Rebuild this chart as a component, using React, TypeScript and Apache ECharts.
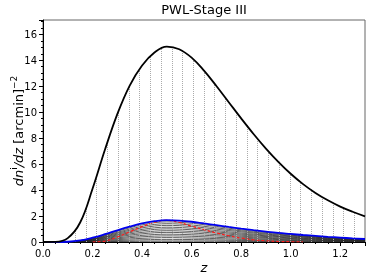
import React, { useEffect, useRef } from "react";
import * as echarts from "echarts";

// redshift grid (step 0.05) for the main curves
const zFine = [0, 0.05, 0.1, 0.15, 0.2, 0.25, 0.3, 0.35, 0.4, 0.45, 0.5, 0.55, 0.6, 0.65, 0.7, 0.75, 0.8, 0.85, 0.9, 0.95, 1.0, 1.05, 1.1, 1.15, 1.2, 1.25, 1.3];
// total dn/dz (black)
const totalN = [0, 0.01, 0.3, 1.5, 4.1, 7.1, 9.85, 12.05, 13.6, 14.6, 15.05, 14.85, 14.2, 13.2, 12.02, 10.77, 9.52, 8.32, 7.2, 6.18, 5.26, 4.46, 3.78, 3.21, 2.73, 2.33, 1.98];
// blue curve
const blueN = [0, 0, 0.02, 0.12, 0.33, 0.6, 0.9, 1.18, 1.43, 1.6, 1.68, 1.65, 1.56, 1.43, 1.3, 1.16, 1.03, 0.91, 0.8, 0.7, 0.62, 0.54, 0.47, 0.4, 0.34, 0.28, 0.23];
// red dashed curve (null = not drawn)
const redN = [null, null, null, null, 0, 0.07, 0.38, 0.78, 1.18, 1.52, 1.67, 1.5, 1.22, 0.95, 0.7, 0.48, 0.3, 0.17, 0.09, 0.04, 0.02, 0.0, null, null, null, null, null];

// bin edges (vertical dotted lines) and their heights (reaching the black curve)
const binEdges = [0.087, 0.13, 0.173, 0.217, 0.26, 0.303, 0.347, 0.39, 0.433, 0.477, 0.52, 0.563, 0.607, 0.65, 0.693, 0.737, 0.78, 0.823, 0.867, 0.91, 0.953, 0.997, 1.04, 1.083, 1.127, 1.17, 1.213, 1.257];
const binEdgeHeights = [0.15, 0.9, 2.7, 5.1, 7.7, 10.0, 12.0, 13.4, 14.35, 14.9, 15.0, 14.7, 14.1, 13.2, 12.15, 11.05, 10.0, 9.0, 8.0, 7.05, 6.2, 5.35, 4.65, 4.05, 3.5, 3.05, 2.65, 2.3];

// coarse grid (step 0.1) for the thin grey curves
const zCoarse = [0, 0.1, 0.2, 0.3, 0.4, 0.5, 0.6, 0.7, 0.8, 0.9, 1.0, 1.1, 1.2, 1.3];
const grey01 = [0, 0.02, 0.3, 0.83, 1.32, 1.55, 1.44, 1.2, 0.94, 0.74, 0.57, 0.43, 0.31, 0.21];
const grey02 = [0, 0.02, 0.27, 0.75, 1.2, 1.41, 1.31, 1.09, 0.86, 0.67, 0.52, 0.39, 0.29, 0.19];
const grey03 = [0, 0.02, 0.24, 0.68, 1.09, 1.28, 1.19, 0.99, 0.78, 0.61, 0.47, 0.36, 0.26, 0.17];
const grey04 = [0, 0.01, 0.21, 0.61, 0.97, 1.14, 1.06, 0.88, 0.69, 0.54, 0.42, 0.32, 0.23, 0.16];
const grey05 = [0, 0.01, 0.19, 0.54, 0.86, 1.01, 0.94, 0.78, 0.61, 0.48, 0.37, 0.28, 0.2, 0.14];
const grey06 = [0, 0.01, 0.16, 0.47, 0.74, 0.87, 0.81, 0.68, 0.53, 0.42, 0.32, 0.24, 0.18, 0.12];
const grey07 = [0, 0.01, 0.14, 0.4, 0.63, 0.74, 0.69, 0.57, 0.45, 0.35, 0.27, 0.21, 0.15, 0.1];
const grey08 = [0, 0.01, 0.11, 0.32, 0.51, 0.6, 0.56, 0.47, 0.37, 0.29, 0.22, 0.17, 0.12, 0.08];
const grey09 = [0, 0, 0.09, 0.25, 0.4, 0.47, 0.44, 0.36, 0.29, 0.22, 0.17, 0.13, 0.1, 0.06];
const grey10 = [0, 0, 0.06, 0.18, 0.28, 0.34, 0.31, 0.26, 0.2, 0.16, 0.12, 0.09, 0.07, 0.05];
const grey11 = [0, 0, 0.04, 0.11, 0.17, 0.2, 0.19, 0.16, 0.12, 0.1, 0.07, 0.06, 0.04, 0.03];
const grey12 = [0, 0, 0.02, 0.04, 0.07, 0.08, 0.08, 0.07, 0.05, 0.04, 0.03, 0.02, 0.02, 0.01];
const greyCurves = [grey01, grey02, grey03, grey04, grey05, grey06, grey07, grey08, grey09, grey10, grey11, grey12];

const FONT = "DejaVu Sans";

export default function App() {
  const ref = useRef<HTMLDivElement>(null);
  useEffect(() => {
    const chart = echarts.init(ref.current!, null, { renderer: "svg" });
    const pair = (xs: number[], ys: (number | null)[]) =>
      xs.map((x, i) => [x, ys[i] === null ? "-" : ys[i]]);

    const greySeries = greyCurves.map((g) => ({
      type: "line",
      data: pair(zCoarse, g),
      smooth: 0.4,
      symbol: "none",
      lineStyle: { color: "#222", width: 0.8, opacity: 0.9 },
      z: 3,
    }));

    const option: any = {
      animation: false,
      title: {
        text: "PWL-Stage III",
        left: 204,
        top: 3,
        textAlign: "center",
        padding: 0,
        textStyle: { fontFamily: FONT, fontSize: 13, fontWeight: "normal", color: "#000" },
      },
      grid: {
        left: 43,
        right: 9,
        top: 20,
        bottom: 38,
        outerBoundsMode: "none",
        containLabel: false,
        show: true,
        borderColor: "#666",
        borderWidth: 1,
        backgroundColor: "transparent",
      },
      xAxis: {
        type: "value",
        min: 0,
        max: 1.3,
        interval: 0.2,
        name: "z",
        nameLocation: "middle",
        nameGap: 19,
        nameMoveOverlap: false,
        nameTextStyle: { fontFamily: FONT, fontSize: 13, fontStyle: "italic", color: "#000" },
        axisLine: { show: true, onZero: false, lineStyle: { color: "#000", width: 1 } },
        axisTick: { show: true, length: 4, lineStyle: { color: "#000" } },
        minorTick: { show: true, splitNumber: 4, length: 2, lineStyle: { color: "#000" } },
        splitLine: { show: false },
        axisLabel: {
          fontFamily: FONT,
          fontSize: 10,
          color: "#000",
          margin: 6,
          showMaxLabel: false,
          formatter: (v: number) => (v > 1.25 ? "" : v.toFixed(1)),
        },
      },
      yAxis: {
        type: "value",
        min: 0,
        max: 17.1,
        interval: 2,
        name: "{i|dn}{s|i}{i|/dz} {n|[arcmin]}{s|−2}",
        nameLocation: "middle",
        nameGap: 18,
        nameMoveOverlap: false,
        nameRotate: 90,
        nameTextStyle: {
          fontFamily: FONT,
          fontSize: 13,
          color: "#000",
          rich: {
            i: { fontFamily: FONT, fontSize: 13, fontStyle: "italic", color: "#000", lineHeight: 16, verticalAlign: "bottom" },
            n: { fontFamily: FONT, fontSize: 13, color: "#000", lineHeight: 16, verticalAlign: "bottom" },
            s: { fontFamily: FONT, fontSize: 9, color: "#000", lineHeight: 16, verticalAlign: "top" },
          },
        },
        axisLine: { show: true, onZero: false, lineStyle: { color: "#000", width: 1 } },
        axisTick: { show: true, length: 4, lineStyle: { color: "#000" } },
        minorTick: { show: true, splitNumber: 4, length: 2, lineStyle: { color: "#000" } },
        splitLine: { show: false },
        axisLabel: {
          fontFamily: FONT,
          fontSize: 10,
          color: "#000",
          margin: 6,
          showMaxLabel: false,
          formatter: (v: number) => (v > 16.5 ? "" : String(v)),
        },
      },
      series: [
        {
          type: "line",
          data: [],
          symbol: "none",
          z: 1,
          markLine: {
            silent: true,
            symbol: ["none", "none"],
            label: { show: false },
            animation: false,
            lineStyle: { color: "#aaa", type: "dotted", width: 1 },
            data: binEdges.map((e, i) => [{ coord: [e, 0] }, { coord: [e, binEdgeHeights[i]] }]),
          },
        },
        ...greySeries,
        {
          type: "line",
          data: pair(zFine, redN),
          smooth: 0.4,
          symbol: "none",
          connectNulls: false,
          lineStyle: { color: "#ff1a1a", width: 1.2, type: [3, 2] },
          z: 4,
        },
        {
          type: "line",
          data: pair(zFine, blueN),
          smooth: 0.4,
          symbol: "none",
          lineStyle: { color: "#0000ee", width: 1.8 },
          z: 5,
        },
        {
          type: "line",
          data: pair(zFine, totalN),
          smooth: 0.4,
          symbol: "none",
          lineStyle: { color: "#000", width: 1.8 },
          z: 6,
        },
      ],
    };
    chart.setOption(option);
    return () => chart.dispose();
  }, []);
  return <div ref={ref} style={{ position: "fixed", left: 0, top: 0, width: 374, height: 280 }} />;
}
